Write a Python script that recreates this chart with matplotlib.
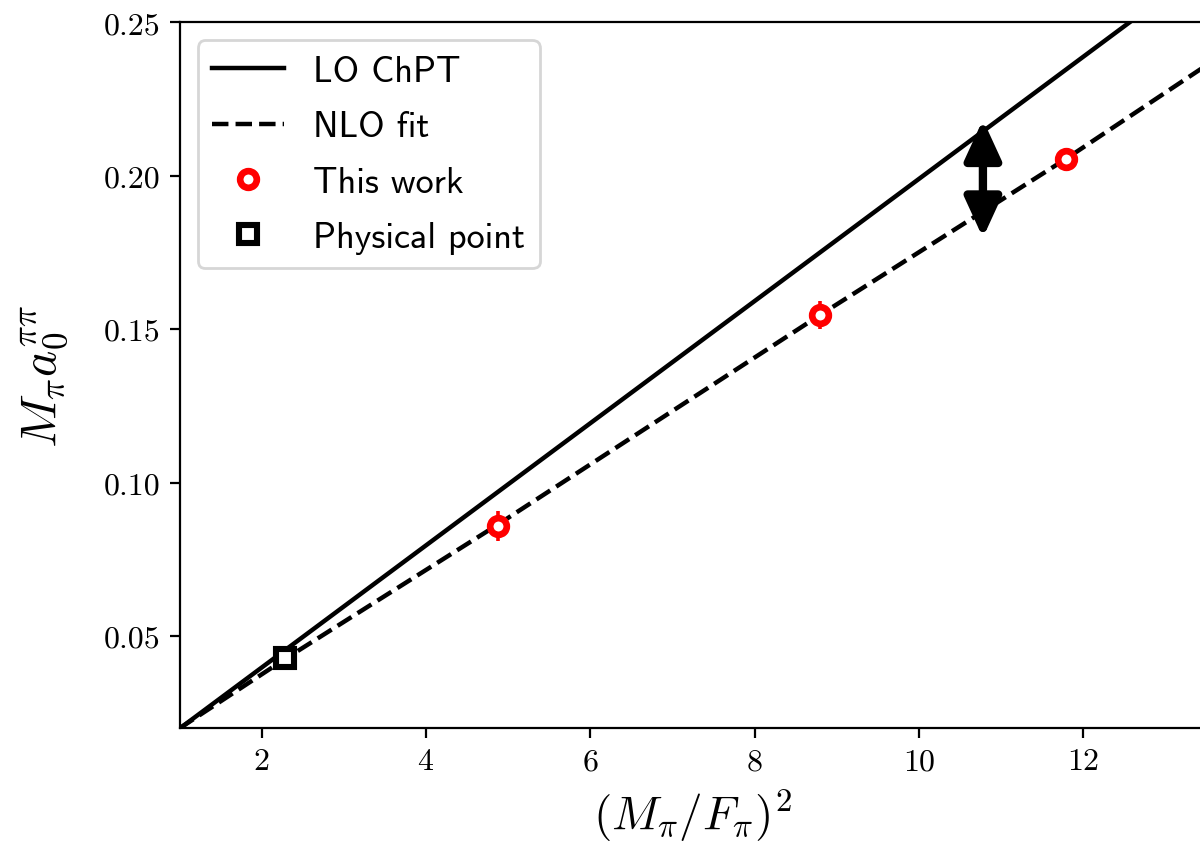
import matplotlib
matplotlib.use("Agg")
import matplotlib.pyplot as plt

plt.rcParams["font.family"] = "serif"
plt.rcParams["font.serif"] = ["cmr10"]
plt.rcParams["mathtext.fontset"] = "cm"
plt.rcParams["axes.formatter.use_mathtext"] = True
plt.rcParams["axes.unicode_minus"] = False

# LO ChPT curve
lo_x = [1.0, 13.5]
lo_y = [0.0199, 0.2686]

# NLO fit curve
nlo_x = [1.0, 2.28, 4.87, 8.80, 11.79, 13.5]
nlo_y = [0.0200, 0.0425, 0.0863, 0.1547, 0.2055, 0.2360]

# lattice points (this work)
work_x = [4.873, 8.80, 11.79]
work_y = [0.0859, 0.1547, 0.2054]
work_err = [0.0048, 0.0045, 0.0030]

# physical point
phys_x = [2.284]
phys_y = [0.0428]

# arrow between LO and NLO
arrow_x = 10.78
arrow_top = 0.2183
arrow_bot = 0.1798

fig = plt.figure(figsize=(6, 4.225), dpi=200)
ax = fig.add_axes([0.1496, 0.1369, 0.8557, 0.8355])

ax.plot(lo_x, lo_y, "k-", lw=1.6, label="LO ChPT")
ax.plot(nlo_x, nlo_y, "k--", lw=1.6, label="NLO fit")
ax.errorbar(work_x, work_y, yerr=work_err, fmt="none", ecolor="red",
            elinewidth=1.3, capsize=0, zorder=3)
ax.plot(work_x, work_y, "o", color="red", mfc="white", mec="red",
        ms=6, mew=2.4, zorder=4, label="This work")
ax.plot(phys_x, phys_y, "s", color="black", mfc="white", mec="black",
        ms=6.5, mew=2.2, zorder=4, label="Physical point")

ax.annotate("", xy=(arrow_x, arrow_top), xytext=(arrow_x, arrow_bot),
            arrowprops=dict(arrowstyle="<|-|>,head_length=1.2,head_width=0.55",
                            lw=3, color="black", mutation_scale=10,
                            shrinkA=0, shrinkB=0), zorder=5)

ax.set_xlim(1, 13.5)
ax.set_ylim(0.02, 0.25)
ax.set_xticks([2, 4, 6, 8, 10, 12])
ax.set_yticks([0.05, 0.10, 0.15, 0.20, 0.25])
ax.set_yticklabels(["0.05", "0.10", "0.15", "0.20", "0.25"])
ax.tick_params(labelsize=11.5)

ax.set_xlabel(r"$(M_\pi/F_\pi)^2$", fontsize=17)
ax.set_ylabel(r"$M_\pi a_0^{\pi\pi}$", fontsize=18, labelpad=12)

leg = ax.legend(loc="upper left", prop={"family": "cmss10", "size": 13},
                labelspacing=0.62)

fig.savefig("out.png", dpi=200)
